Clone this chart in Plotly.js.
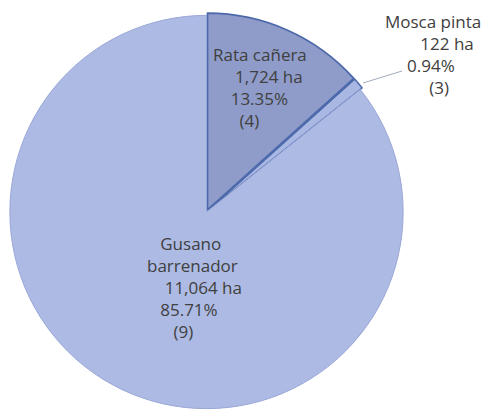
<!DOCTYPE html>
<html>
<head>
<meta charset="utf-8">
<script src="https://cdn.plot.ly/plotly-3.0.1.min.js"></script>
<style>
  html, body { margin: 0; padding: 0; background: #ffffff; }
  #chart { width: 482px; height: 411px; }
</style>
</head>
<body>
<div id="chart"></div>
<script>
// ---- data ----
const pests    = ["Rata cañera", "Mosca pinta", "Gusano barrenador"];
const hectares = [1724, 122, 11064];
const percents = ["13.35%", "0.94%", "85.71%"];
const counts   = ["(4)", "(3)", "(9)"];

// ---- styling ----
const W = 482, H = 411;
const fills   = ["#8f9cc9", "#a9b7e3", "#adbae3"];
const borders = ["#4c69ab", "#4c69ab", "#9aa8d8"];
const widths  = [1.8, 1.5, 1];
const pulls   = [0.012, 0.012, 0];

const px = x => x / W;
const py = y => 1 - y / H;

// label layout: name lines per slice, indentation (non-breaking spaces) per line,
// and block position (left x, vertical centre y) in pixels
const nameLines = [["Rata cañera"], ["Mosca pinta"], ["Gusano", "barrenador"]];
const indents = [
  [0, 5, 4, 6],
  [0, 8, 5, 10],
  [3, 0, 4, 3, 6]
];
const blockPos = [[211, 88], [383, 54], [145, 287]];

const annotations = pests.map((p, i) => {
  const lines = nameLines[i].concat([
    hectares[i].toLocaleString("en-US") + "\u00a0ha",
    percents[i],
    counts[i]
  ]).map((t, j) => "\u00a0".repeat(indents[i][j]) + t);
  return {
    text: lines.join("<br>"),
    x: px(blockPos[i][0]), y: py(blockPos[i][1]),
    xref: "paper", yref: "paper",
    xanchor: "left", yanchor: "middle", align: "left", showarrow: false,
    font: { family: "Open Sans, sans-serif", size: 17, color: "#404040" }
  };
});

const trace = {
  type: "pie",
  labels: pests,
  values: hectares,
  sort: false,
  direction: "clockwise",
  rotation: 0,
  pull: pulls,
  textinfo: "none",
  hoverinfo: "label+value+percent",
  marker: { colors: fills, line: { color: borders, width: widths } },
  domain: { x: [px(7.5), px(405.5)], y: [0, py(13)] },
  showlegend: false
};

const layout = {
  width: W, height: H,
  margin: { l: 0, r: 0, t: 0, b: 0 },
  paper_bgcolor: "#ffffff",
  plot_bgcolor: "#ffffff",
  showlegend: false,
  annotations: annotations,
  shapes: [{
    type: "line", xref: "paper", yref: "paper",
    x0: px(363), y0: py(83), x1: px(402), y1: py(71),
    line: { color: "#a3abbd", width: 1 }
  }]
};

Plotly.newPlot("chart", [trace], layout, { staticPlot: true, displayModeBar: false });
</script>
</body>
</html>
